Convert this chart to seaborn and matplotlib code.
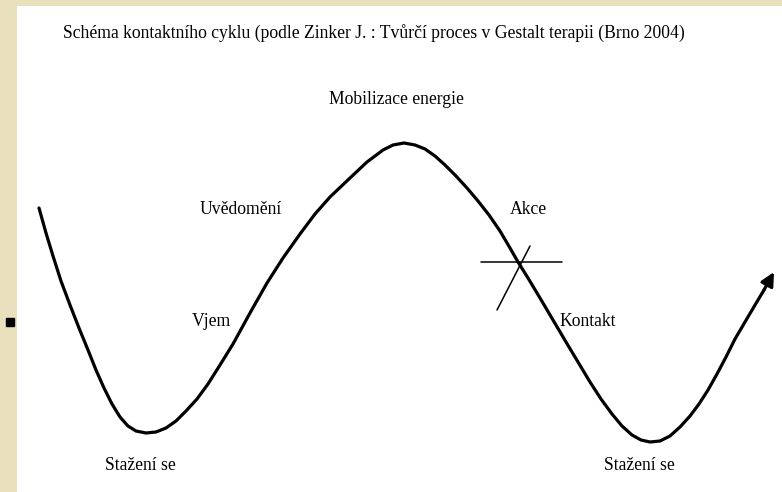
import matplotlib
matplotlib.use("Agg")
import matplotlib.pyplot as plt
import seaborn as sns
import pandas as pd

# curve (pixel coords, y grows downward)
curve_x = [39, 46, 53, 61, 70, 79, 88, 96, 104, 112, 120, 128, 136, 146, 156, 166,
           176, 186, 197, 208, 220, 233, 250, 267, 283, 300, 315, 330, 350, 367,
           383, 393, 404, 415, 425, 435, 445, 456, 467, 478, 489, 500, 510, 518,
           528, 540, 553, 566, 578, 590, 601, 612, 622, 632, 641, 650, 660, 670,
           680, 690, 699, 708, 717, 726, 735, 745, 755, 764]
curve_y = [208, 233, 256, 281, 305, 328, 350, 370, 388, 404, 417, 426, 431, 433, 432, 428,
           421, 411, 399, 384, 365, 344, 313, 283, 258, 234, 214, 197, 178, 162,
           150, 145, 143, 145, 149, 156, 165, 176, 188, 201, 215, 231, 248, 262,
           278, 298, 320, 342, 362, 382, 399, 414, 426, 435, 440, 442, 441, 436,
           427, 416, 404, 390, 374, 357, 339, 322, 305, 290]
arrow_tip = (774, 272)

# the crossed mark on the "Akce" slope
cross_h = ([481, 562], [262, 262])
cross_d = ([497, 530], [310, 246])

title = "Schéma kontaktního cyklu (podle Zinker J. : Tvůrčí proces v Gestalt terapii (Brno 2004)"
labels = ["Mobilizace energie", "Uvědomění", "Akce", "Vjem", "Kontakt", "Stažení se", "Stažení se"]
label_x = [329, 200, 510, 192, 559, 105, 604]
label_y = [100, 210, 210, 322, 322, 466, 466]

sns.set_theme(style="white")
plt.rcParams['font.family'] = ['Liberation Serif', 'DejaVu Serif']

fig = plt.figure(figsize=(7.82, 4.92), dpi=100, facecolor='#e9e1bd')
ax = fig.add_axes([17 / 782, 0, 765 / 782, 486 / 492])
ax.set_facecolor('white')
ax.set_xlim(17, 782)
ax.set_ylim(492, 6)
ax.axis('off')
ax.add_patch(plt.Rectangle((17, 6), 765, 486, color='white', zorder=0))

df = pd.DataFrame({'x': curve_x, 'y': curve_y})
sns.lineplot(data=df, x='x', y='y', sort=False, color='black', linewidth=2.3, ax=ax)
ax.annotate('', xy=arrow_tip, xytext=(curve_x[-1], curve_y[-1]),
            arrowprops=dict(arrowstyle='-|>', color='black', lw=2.3,
                            mutation_scale=20, shrinkA=0, shrinkB=0))

ax.plot(*cross_h, color='black', linewidth=1.1)
ax.plot(*cross_d, color='black', linewidth=1.1)

ax.text(63, 33, title, fontsize=12.7, va='center', ha='left', color='black')
for txt, lx, ly in zip(labels, label_x, label_y):
    ax.text(lx, ly, txt, fontsize=12.7, va='center', ha='left', color='black')

# little bullet on the left border
ax.plot([10], [322], marker='s', markersize=6, color='black', clip_on=False)

ax.set_xlabel('')
ax.set_ylabel('')
fig.savefig('out.png', dpi=100, facecolor=fig.get_facecolor())
